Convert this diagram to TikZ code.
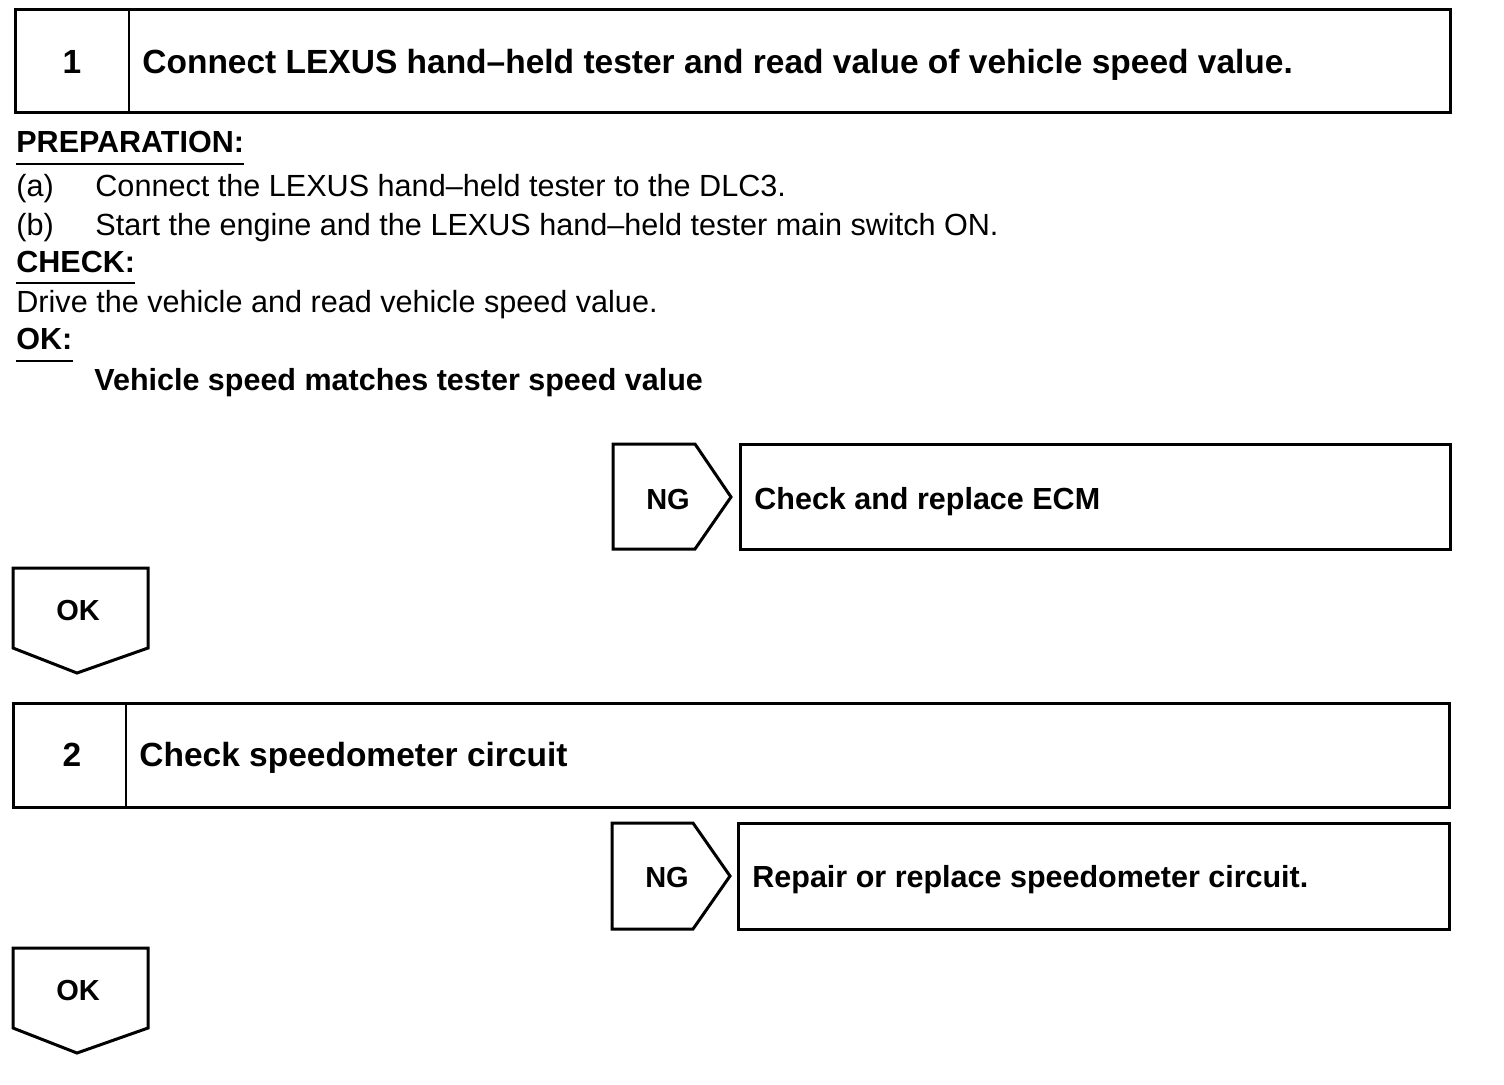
\documentclass[tikz,border=0pt]{standalone}
\usepackage{fontspec}
\setmainfont{Liberation Sans}
\begin{document}
\begin{tikzpicture}[x=0.5pt,y=-0.5pt]
\tikzset{
  frame/.style={draw=black, line width=1.5pt, line join=miter},
  divider/.style={draw=black, line width=1.3pt},
  uline/.style={draw=black, line width=1pt},
  headtxt/.style={anchor=base west, inner sep=0pt, font=\fontsize{16.75}{20}\selectfont\bfseries},
  numtxt/.style={anchor=base, inner sep=0pt, font=\fontsize{16.75}{20}\selectfont\bfseries},
  bodytxt/.style={anchor=base west, inner sep=0pt, font=\fontsize{15.3}{18}\selectfont},
  boldtxt/.style={anchor=base west, inner sep=0pt, font=\fontsize{15.25}{18}\selectfont\bfseries},
  tagtxt/.style={anchor=base, inner sep=0pt, font=\fontsize{14.5}{18}\selectfont\bfseries},
}
\useasboundingbox (0,0) rectangle (1504,1084);
\fill[white] (0,0) rectangle (1504,1084);

% ---- Step 1 box
\draw[frame] (15,9) rectangle (1450,112);
\draw[divider] (129,9) -- (129,112);
\node[numtxt] (n1) at (72,73) {1};
\node[headtxt] (h1) at (142,73) {Connect LEXUS hand–held tester and read value of vehicle speed value.};

% ---- Text block
\node[boldtxt] (prep) at (16,152) {PREPARATION:};
\draw[uline] ([yshift=-6pt]prep.base west) -- ([yshift=-6pt]prep.base east);
\node[bodytxt] (pa) at (16,196) {(a)};
\node[bodytxt] (pat) at (95,196) {Connect the LEXUS hand–held tester to the DLC3.};
\node[bodytxt] (pb) at (16,235) {(b)};
\node[bodytxt] (pbt) at (95,235) {Start the engine and the LEXUS hand–held tester main switch ON.};
\node[boldtxt] (chk) at (16,272) {CHECK:};
\draw[uline] ([yshift=-5.5pt]chk.base west) -- ([yshift=-5.5pt]chk.base east);
\node[bodytxt] (drv) at (16,312) {Drive the vehicle and read vehicle speed value.};
\node[boldtxt] (okh) at (16,349) {OK:};
\draw[uline] ([yshift=-6pt]okh.base west) -- ([yshift=-6pt]okh.base east);
\node[boldtxt] (okt) at (94,390) {Vehicle speed matches tester speed value};

% ---- NG 1
\draw[frame] (613,444) -- (695,444) -- (731,497) -- (695,549) -- (613,549) -- cycle;
\node[tagtxt] (ng1) at (668,509) {NG};
\draw[frame] (740,444) rectangle (1450,549);
\node[boldtxt] (r1) at (754,509) {Check and replace ECM};

% ---- OK 1
\draw[frame] (13,568) -- (148,568) -- (148,648) -- (77,673) -- (13,648) -- cycle;
\node[tagtxt] (ok1) at (78,620) {OK};

% ---- Step 2 box
\draw[frame] (13,703) rectangle (1449,807);
\draw[divider] (126,703) -- (126,807);
\node[numtxt] (n2) at (72,766) {2};
\node[headtxt] (h2) at (139,766) {Check speedometer circuit};

% ---- NG 2
\draw[frame] (612,823) -- (693,823) -- (730,876) -- (693,929) -- (612,929) -- cycle;
\node[tagtxt] (ng2) at (667,887) {NG};
\draw[frame] (738,823) rectangle (1449,929);
\node[boldtxt] (r2) at (752,887) {Repair or replace speedometer circuit.};

% ---- OK 2
\draw[frame] (13,948) -- (148,948) -- (148,1028) -- (77,1053) -- (13,1028) -- cycle;
\node[tagtxt] (ok2) at (78,1000) {OK};
\end{tikzpicture}
\end{document}
